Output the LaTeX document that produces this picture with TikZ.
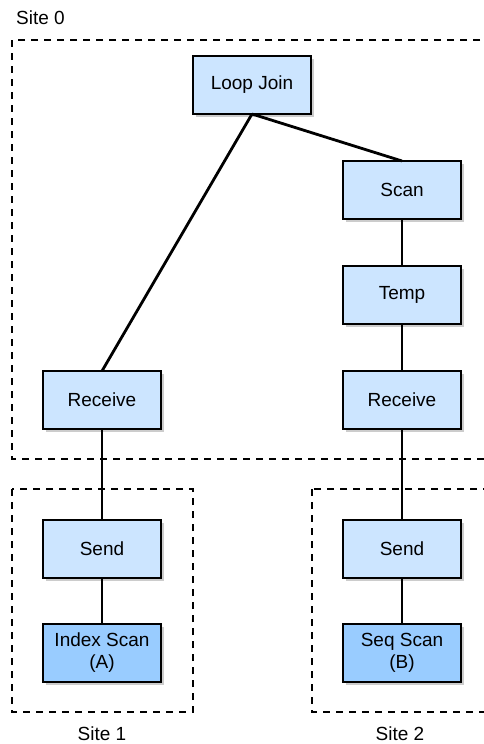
\documentclass[tikz,border=0pt]{standalone}
\usepackage{fontspec}
\setmainfont{Liberation Sans}
\usetikzlibrary{positioning,shadows}

\definecolor{opblue}{HTML}{CCE5FF}
\definecolor{leafblue}{HTML}{99CCFF}

\tikzset{
  op/.style={draw, line width=2.8pt, fill=opblue, minimum width=118pt, minimum height=58pt,
    outer sep=0pt, align=center, font=\fontsize{19}{22}\selectfont,
    drop shadow={shadow xshift=3pt, shadow yshift=-3pt, fill=black!40, opacity=0.5}},
  leaf/.style={op, fill=leafblue},
  site/.style={draw, line width=2.8pt, dash pattern=on 7pt off 6pt},
  sitelabel/.style={font=\fontsize{19}{22}\selectfont, inner sep=1pt},
  link/.style={line width=2.8pt}
}

\begin{document}
\begin{tikzpicture}[x=1pt, y=1pt, node distance=47pt]
\useasboundingbox (0,0) rectangle (483,-744);

% sites
\draw[site] (12,-40) rectangle (490,-459);
\draw[site] (12,-489) rectangle (193,-712);
\draw[site] (312,-489) rectangle (490,-712);
\node[sitelabel, anchor=west] (s0) at (15,-18) {Site 0};
\node[sitelabel] (s1) at (102,-734) {Site 1};
\node[sitelabel] (s2) at (400,-734) {Site 2};

% operators
\node[op] (join) at (252,-85) {Loop Join};
\node[op] (scan) at (402,-190) {Scan};
\node[op, below=of scan] (temp) {Temp};
\node[op, below=of temp] (recvb) {Receive};
\node[op] (recva) at (102,-400) {Receive};
\node[op, below=91pt of recva] (senda) {Send};
\node[leaf, below=46pt of senda] (idx) {Index Scan\\(A)};
\node[op, below=91pt of recvb] (sendb) {Send};
\node[leaf, below=46pt of sendb] (seq) {Seq Scan\\(B)};

% plan edges
\draw[link] (join.south) -- (recva.north);
\draw[link] (join.south) -- (scan.north);
\draw[link] (scan) -- (temp);
\draw[link] (temp) -- (recvb);
\draw[link] (recva) -- (senda);
\draw[link] (senda) -- (idx);
\draw[link] (recvb) -- (sendb);
\draw[link] (sendb) -- (seq);
\end{tikzpicture}
\end{document}
